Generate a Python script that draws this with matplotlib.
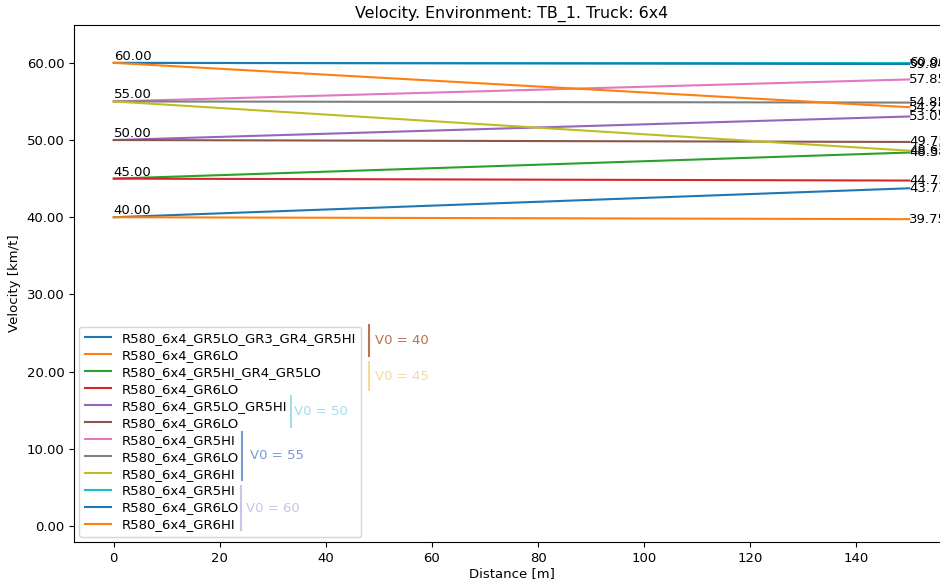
import matplotlib

matplotlib.use("Agg")

import matplotlib.pyplot as plt
from matplotlib.ticker import FormatStrFormatter

# run data: one entry per simulated gear strategy
labels = [
    "R580_6x4_GR5LO_GR3_GR4_GR5HI",
    "R580_6x4_GR6LO",
    "R580_6x4_GR5HI_GR4_GR5LO",
    "R580_6x4_GR6LO",
    "R580_6x4_GR5LO_GR5HI",
    "R580_6x4_GR6LO",
    "R580_6x4_GR5HI",
    "R580_6x4_GR6LO",
    "R580_6x4_GR6HI",
    "R580_6x4_GR5HI",
    "R580_6x4_GR6LO",
    "R580_6x4_GR6HI",
]
distance = [0, 150]
v_start = [40, 40, 45, 45, 50, 50, 55, 55, 55, 60, 60, 60]
v_end = [43.75, 39.75, 48.38, 44.75, 53.05, 49.75, 57.85, 54.85, 48.62, 60.0, 59.84, 54.25]
colors = ["tab:blue", "tab:orange", "tab:green", "tab:red", "tab:purple", "tab:brown",
          "tab:pink", "tab:gray", "tab:olive", "tab:cyan", "tab:blue", "tab:orange"]

group_names = ["V0 = 40", "V0 = 45", "V0 = 50", "V0 = 55", "V0 = 60"]
group_v0 = [40, 45, 50, 55, 60]
group_colors = ["#b87352", "#f0dc96", "#a3dcef", "#7b9bd0", "#c9c4ea"]

fs = 9.5
plt.rcParams["font.size"] = fs

fig = plt.figure(figsize=(9.4, 5.83), dpi=100)
ax = fig.add_axes([74 / 940, 41 / 583, 875 / 940, 517 / 583])

for lab, v0, v1, c in zip(labels, v_start, v_end, colors):
    ax.plot(distance, [v0, v1], color=c, label=lab)
    ax.text(distance[-1], v1, f"{v1:.2f}", fontsize=fs, va="center")
for v0 in group_v0:
    ax.text(distance[0], v0, f"{v0:.2f}", fontsize=fs, va="bottom")

ax.set_xlim(-7.5, 157.5)
ax.set_ylim(-2.07, 64.9)
ax.set_yticks(range(0, 61, 10))
ax.yaxis.set_major_formatter(FormatStrFormatter("%.2f"))
ax.tick_params(labelsize=fs)
ax.set_xlabel("Distance [m]", fontsize=fs, labelpad=2)
ax.set_ylabel("Velocity [km/t]", fontsize=fs)
ax.set_title("Velocity. Environment: TB_1. Truck: 6x4", fontsize=11.4, pad=5)
ax.legend(loc="lower left", fontsize=fs, labelspacing=0.3, borderaxespad=0.4)

# group brackets next to the legend (axes fraction)
bar_x = [0.337, 0.337, 0.248, 0.192, 0.191]
bar_top = [0.420, 0.348, 0.282, 0.213, 0.108]
bar_bot = [0.360, 0.294, 0.222, 0.120, 0.023]
txt_x = [0.344, 0.344, 0.252, 0.201, 0.197]
for name, c, bx, t, b, tx in zip(group_names, group_colors, bar_x, bar_top, bar_bot, txt_x):
    ax.plot([bx, bx], [b, t], color=c, lw=1.5, transform=ax.transAxes, zorder=6)
    ax.text(tx, (t + b) / 2, name, color=c, fontsize=fs, va="center",
            transform=ax.transAxes, zorder=6)

fig.savefig("out.png", dpi=100)
